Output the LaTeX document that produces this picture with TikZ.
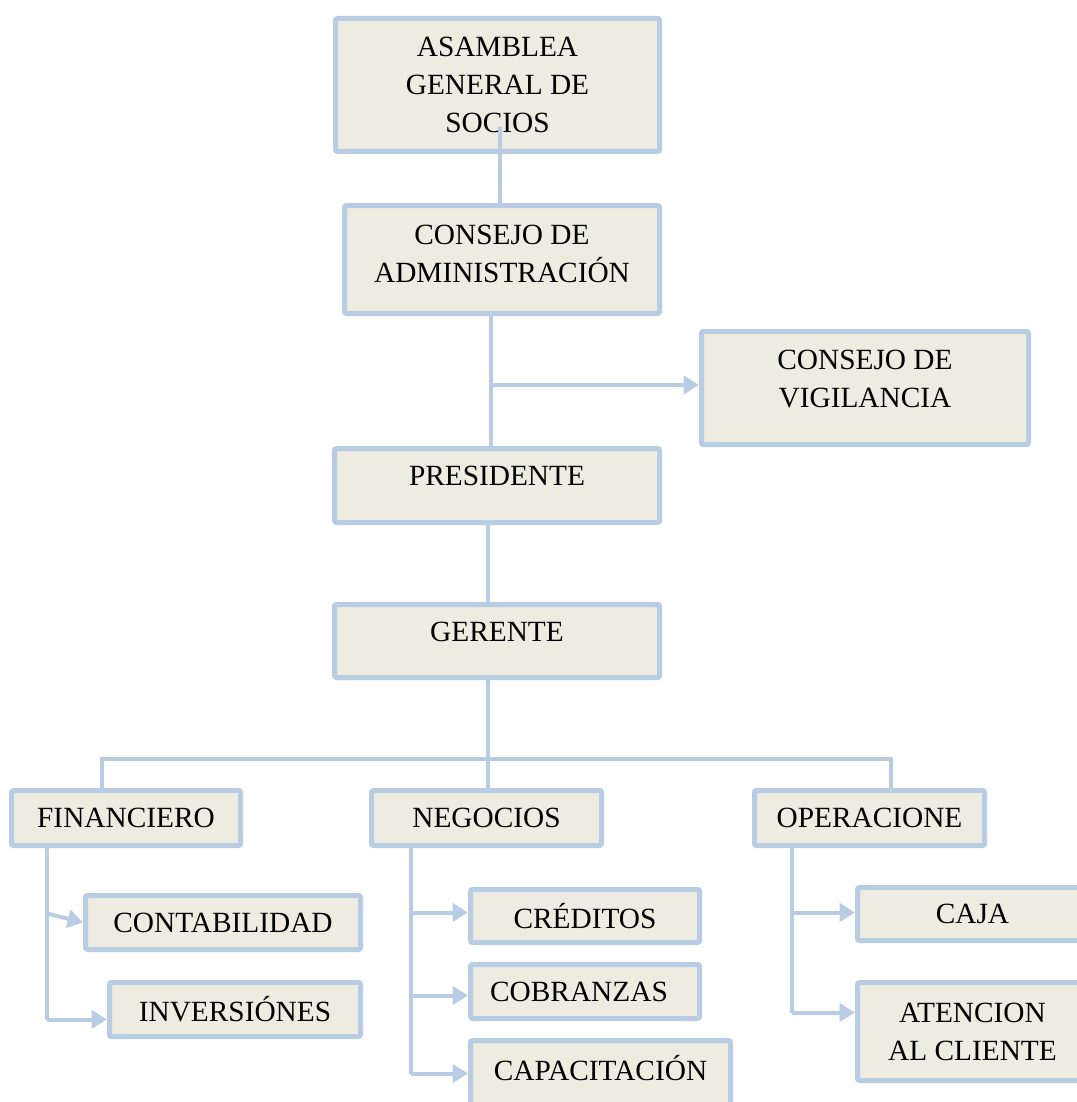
\documentclass[tikz,border=0pt]{standalone}
\usepackage{fontspec}
\setmainfont{Liberation Serif}
\usetikzlibrary{arrows.meta,calc}
\definecolor{bc}{RGB}{184,204,228}
\definecolor{fc}{RGB}{238,236,225}
\tikzset{
  box/.style={draw=bc, fill=fc, line width=3.75pt, rounded corners=1.5pt, inner sep=0pt, align=center,
    font=\fontsize{22}{28.5}\selectfont},
  lbl/.style={inner sep=0pt, align=center, font=\fontsize{22}{28.5}\selectfont},
  conn/.style={draw=bc, line width=3pt},
  arr/.style={conn, -{Triangle[length=11.5pt,width=13.5pt]}},
}
\begin{document}
\begin{tikzpicture}[x=0.75pt,y=-0.75pt]
\useasboundingbox (0,0) rectangle (1076,1102);
% boxes
\node[box, minimum width=324*0.75pt, minimum height=133*0.75pt] (asm) at (497.5,85)
  {ASAMBLEA\\GENERAL DE\\SOCIOS};
\node[box, minimum width=315*0.75pt, minimum height=108*0.75pt,
  label={[lbl,yshift=4.1pt]center:CONSEJO DE\\ADMINISTRACIÓN}] (adm) at (502,259.5) {};
\node[box, minimum width=327*0.75pt, minimum height=113*0.75pt,
  label={[lbl,yshift=6.75pt]center:CONSEJO DE\\VIGILANCIA}] (vig) at (865,388) {};
\node[box, minimum width=325*0.75pt, minimum height=74*0.75pt,
  label={[lbl,yshift=7.5pt]center:PRESIDENTE}] (pre) at (497,485.5) {};
\node[box, minimum width=325*0.75pt, minimum height=73*0.75pt,
  label={[lbl,yshift=7.1pt]center:GERENTE}] (ger) at (497,641) {};
\node[box, minimum width=229*0.75pt, minimum height=55*0.75pt] (fin) at (126,818) {FINANCIERO};
\node[box, minimum width=230*0.75pt, minimum height=55*0.75pt] (neg) at (486.5,818) {NEGOCIOS};
\node[box, minimum width=230*0.75pt, minimum height=55*0.75pt] (ope) at (869.5,818) {OPERACIONE};
\node[box, minimum width=275*0.75pt, minimum height=54*0.75pt] (con) at (223,922.5) {CONTABILIDAD};
\node[box, minimum width=251*0.75pt, minimum height=54*0.75pt] (inv) at (235,1009.5) {INVERSIÓNES};
\node[box, minimum width=229*0.75pt, minimum height=53*0.75pt] (cre) at (585,916) {CRÉDITOS};
\node[box, minimum width=229*0.75pt, minimum height=54*0.75pt,
  label={[lbl,xshift=-4.5pt]center:COBRANZAS}] (cob) at (585,991.5) {};
\node[box, minimum width=260*0.75pt, minimum height=69*0.75pt,
  label={[lbl,yshift=4.9pt]center:CAPACITACIÓN}] (cap) at (600.5,1075) {};
\node[box, minimum width=230*0.75pt, minimum height=53*0.75pt] (caja) at (972.5,914) {CAJA};
\node[box, minimum width=230*0.75pt, minimum height=98*0.75pt] (ate) at (972.5,1031.5) {ATENCION\\AL CLIENTE};
% top chain
\coordinate (a1) at ($(asm.center)+(2.5,42)$);
\draw[conn] (a1) -- (a1 |- adm.north);
\coordinate (k1) at ($(adm.south)+(-11,0)$);
\draw[conn] (k1) -- (k1 |- pre.north);
\coordinate (k2) at ($(k1)+(0,69)$);
\draw[arr] (k2) -- (k2 -| vig.west);
\coordinate (k3) at ($(pre.south)+(-9,0)$);
\draw[conn] (k3) -- (k3 |- ger.north);
% bus
\coordinate (k4) at ($(ger.south)+(-9,0)$);
\coordinate (k5) at ($(k4)+(0,78.5)$);
\coordinate (fd) at ($(fin.north)+(-24,0)$);
\coordinate (od) at ($(ope.north)+(21.5,0)$);
\draw[conn] (k4) -- (k5) -- (k5 |- neg.north);
\draw[conn] (fd) -- (fd |- k5) -- (od |- k5) -- (od);
% financiero branch
\coordinate (fb) at ($(fin.south)+(-79,0)$);
\coordinate (fc) at ($(fb)+(0,65.5)$);
\coordinate (fi) at ($(fb)+(0,171.5)$);
\draw[conn] (fb) -- (fi);
\draw[arr] (fc) -- (con.west);
\draw[arr] (fi) -- (fi -| inv.west);
% negocios branch
\coordinate (nb) at ($(neg.south)+(-75.5,0)$);
\coordinate (n1) at ($(nb)+(0,64.5)$);
\coordinate (n2) at ($(nb)+(0,147.5)$);
\coordinate (n3) at ($(nb)+(0,225.5)$);
\draw[conn] (nb) -- (n3);
\draw[arr] (n1) -- (n1 -| cre.west);
\draw[arr] (n2) -- (n2 -| cob.west);
\draw[arr] (n3) -- (n3 -| cap.west);
% operaciones branch
\coordinate (ob) at ($(ope.south)+(-77.5,0)$);
\coordinate (o1) at ($(ob)+(0,64.5)$);
\coordinate (o2) at ($(ob)+(0,164.5)$);
\draw[conn] (ob) -- (o2);
\draw[arr] (o1) -- (o1 -| caja.west);
\draw[arr] (o2) -- (o2 -| ate.west);
\end{tikzpicture}
\end{document}
